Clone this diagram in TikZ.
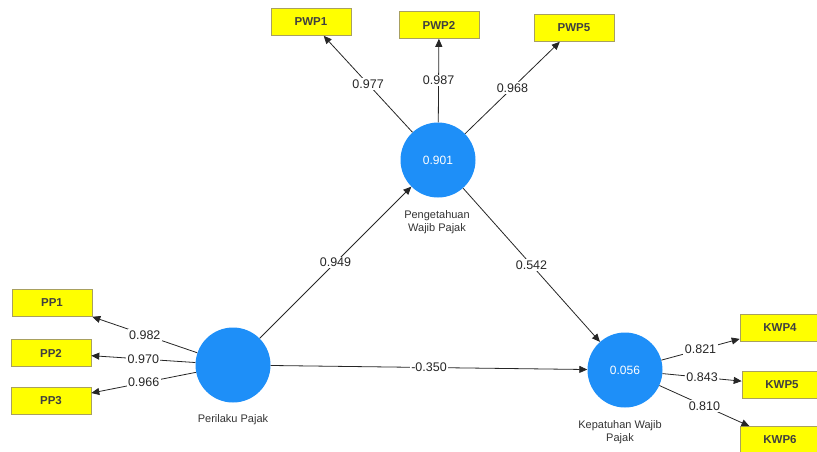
\documentclass[tikz,border=0pt]{standalone}
\usepackage{fontspec}
\setmainfont{Liberation Sans}
\usetikzlibrary{arrows.meta}
\definecolor{lvblue}{HTML}{1E8FF8}
\definecolor{indyellow}{HTML}{FFFF00}
\definecolor{indborder}{HTML}{A8A060}
\begin{document}
\begin{tikzpicture}[x=1pt,y=-1pt,
  latent/.style={circle,fill=lvblue,draw=none,minimum size=75pt,inner sep=0pt,
    text=white,font=\fontsize{12}{12}\selectfont},
  indic/.style={rectangle,fill=indyellow,draw=indborder,line width=0.6pt,
    minimum width=80pt,minimum height=27pt,inner sep=0pt,
    font=\fontsize{11.5}{12}\selectfont\bfseries,text=black!75},
  caption/.style={align=center,font=\fontsize{11}{13}\selectfont,text=black!80},
  conn/.style={draw=black!85,line width=0.8pt,-{Triangle[length=8pt,width=7pt]}},
  coef/.style={fill=white,inner sep=1.5pt,font=\fontsize{12.5}{12}\selectfont,text=black!85}]
\useasboundingbox (0,0) rectangle (817,451);
% latent variables
\node[latent] (PWT) at (438,160) {0.901};
\node[latent] (PP)  at (233,365) {};
\node[latent] (KWP) at (625,370) {0.056};
\node[caption] (PWTc) at (437,222) {Pengetahuan\\Wajib Pajak};
\node[caption] (PPc)  at (233,420) {Perilaku Pajak};
\node[caption] (KWPc) at (620,432) {Kepatuhan Wajib\\Pajak};
% indicators
\node[indic] (PWP1) at (311,22) {PWP1};
\node[indic] (PWP2) at (439,25) {PWP2};
\node[indic] (PWP5) at (574,28) {PWP5};
\node[indic] (PP1) at (52,303) {PP1};
\node[indic] (PP2) at (51,353) {PP2};
\node[indic] (PP3) at (51,401) {PP3};
\node[indic] (KWP4) at (780,328) {KWP4};
\node[indic] (KWP5) at (782,385) {KWP5};
\node[indic] (KWP6) at (780,440) {KWP6};
% outer loadings
\draw[conn] (PWT) -- node[coef] {0.977} (PWP1);
\draw[conn] (PWT) -- node[coef] {0.987} (PWP2);
\draw[conn] (PWT) -- node[coef] {0.968} (PWP5);
\draw[conn] (PP) -- node[coef] {0.982} (PP1);
\draw[conn] (PP) -- node[coef] {0.970} (PP2);
\draw[conn] (PP) -- node[coef] {0.966} (PP3);
\draw[conn] (KWP) -- node[coef] {0.821} (KWP4);
\draw[conn] (KWP) -- node[coef] {0.843} (KWP5);
\draw[conn] (KWP) -- node[coef] {0.810} (KWP6);
% structural paths
\draw[conn] (PP) -- node[coef] {0.949} (PWT);
\draw[conn] (PWT) -- node[coef] {0.542} (KWP);
\draw[conn] (PP) -- node[coef] {-0.350} (KWP);
\end{tikzpicture}
\end{document}
